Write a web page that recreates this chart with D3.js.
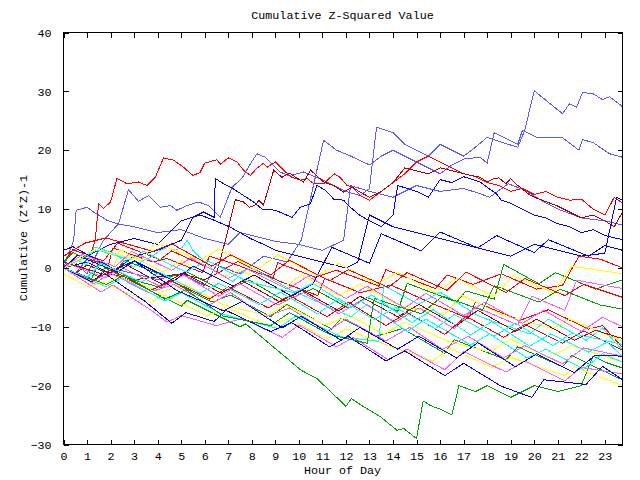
<!DOCTYPE html>
<html><head><meta charset="utf-8">
<script src="https://cdn.jsdelivr.net/npm/d3@7"></script>
<style>
body{margin:0;background:#fff}
text{font-family:"Liberation Mono","DejaVu Sans Mono",monospace;font-size:11.7px;fill:#000}
</style></head>
<body><svg id="c" width="640" height="480"></svg>
<script>
const titleText = "Cumulative Z-Squared Value";
const xLabel = "Hour of Day";
const yLabel = "Cumulative (Z*Z)-1";
const hourTicks = d3.range(0, 24);
const valueTicks = [-30, -20, -10, 0, 10, 20, 30, 40];

const s01 = [[0,0],[0.5,1],[1,-1],[1.7,4.7],[2.34,7.5],[2.76,13.3],[3.19,11.3],[3.61,12.3],[4.11,10.3],[4.54,10.6],[4.82,9.8],[5.25,10.6],[5.74,11.2],[6.17,10.6],[6.66,8.6],[7.16,13.7],[7.58,15.2],[7.94,17.7],[8.22,19.4],[8.58,18.8],[9.2,16.3],[9.57,15.7],[9.92,16],[10.2,16.3],[10.56,15.7],[11,15],[11.5,14],[12,13],[12.6,12.3],[13,13.5],[13.3,23.9],[14,23],[14.5,21],[15,20],[15.5,19],[16,21],[16.5,20],[17,19],[17.5,20.5],[18,22.2],[18.5,21.5],[19.3,20.5],[19.6,23.4],[19.9,28.5],[20,30.1],[21.2,26.2],[21.5,27.9],[21.8,27.3],[22.05,29.8],[22.5,29.6],[22.9,28.6],[23.2,29.1],[23.75,27.4]];
const s02 = [[0,0],[0.5,-1],[1,1.5],[2,0],[3,-1],[4,-2],[5,-1],[6,-3],[6.5,0.5],[7.5,-1],[8.5,2],[9.5,1],[10.1,4.7],[11.05,21.7],[11.6,20],[12.2,19],[13,17.5],[13.5,19],[14,20],[14.5,19],[15,18],[15.5,17],[16,16],[16.5,17.5],[17,18.5],[17.7,18.8],[18,17.8],[18.3,23],[18.8,22],[19.3,21],[19.5,23.4],[20.1,22.2],[21.2,22.1],[21.9,20],[22.05,21.8],[22.5,21.3],[23.2,19.4],[23.75,18.8]];
const s03 = [[0,0],[0.43,4.7],[0.54,9.8],[1,10.3],[1.28,9.5],[1.85,8.1],[2.27,7.5],[3,7],[4,6],[5,6.5],[6,5],[7,4],[7.5,6],[8,5.5],[9,4.5],[10,4],[11,3],[11.9,4.7],[12.2,14],[13,13],[14,12],[15,14],[16,13],[17,13.5],[17.7,12.6],[18.1,12],[18.9,14.3],[19.6,13.2],[20.5,11],[21,10],[22,8.5],[23,8],[23.75,7.3]];
const s04 = [[0,0],[0.5,1.5],[1,0.5],[1.35,4.7],[1.49,10.9],[1.7,10.1],[2,11.2],[2.27,15.2],[2.7,14.3],[3.19,14.6],[3.55,14],[3.9,15.4],[4.25,18.7],[4.68,18.3],[5.1,17.1],[5.5,15.7],[5.8,16.2],[6,17.8],[6.52,18.4],[6.66,17.6],[7,18.7],[7.37,18],[7.65,16.6],[7.94,15.7],[8.2,16.9],[8.5,17.8],[8.65,17.1],[9,18],[9.35,16.6],[9.7,15.4],[10.06,14.9],[10.35,15.2],[10.63,14.3],[11.05,14.3],[11.5,16],[11.75,15.4],[12.05,14],[12.3,13.7],[12.6,12.3],[13,11.5],[13.5,13],[14,14.5],[14.5,16],[15,18],[15.5,19],[16,18],[16.5,17],[17,16],[17.5,15.5],[18,14.5],[18.5,14],[19,13],[19.5,13.5],[20,12.5],[20.5,13],[21,12],[21.5,11.5],[22,11.7],[22.5,10],[23,9],[23.4,12],[23.75,11]];
const s05 = [[0,0],[0.5,-1],[1,0.5],[2,-1],[3,-2],[4,-1.5],[5,-1],[6,-2],[6.5,-1],[6.88,4.7],[7.3,11.6],[7.65,11.2],[7.9,10.3],[8.15,10.7],[8.3,11.5],[8.5,10.7],[8.93,16.6],[9.28,15.4],[9.6,16.1],[9.9,15.3],[10.2,14.6],[10.5,16.6],[10.75,15.7],[11.05,14.6],[11.48,14],[11.9,12.9],[12.26,13.7],[12.6,12.9],[13,12],[13.5,13],[14,14.5],[14.5,17],[15,16.5],[15.5,16],[16,17],[16.5,16.5],[17,16],[17.7,15.4],[18,14.6],[18.3,15.2],[18.5,15.3],[18.8,14.3],[19,15.2],[19.3,14],[19.56,13.2],[19.84,12.3],[20.27,11.6],[21,10.5],[21.5,9.5],[22,8.5],[22.5,9],[23,8],[23.4,7],[23.75,9.5]];
const s06 = [[0,0],[1,1],[2,-1],[3,2],[4,3],[5,4.7],[5.5,8.6],[5.95,9.5],[6.4,8.6],[6.45,15.2],[6.8,14.3],[7.23,13.4],[7.65,12.3],[8.08,11.2],[8.44,10],[9,9.8],[9.35,9.2],[9.71,8.6],[10.06,10.3],[10.49,10.9],[10.77,14],[11.13,13.2],[11.48,11.7],[11.9,11.5],[12.19,10.3],[12.6,8.9],[13,8],[13.5,7],[14,9],[14.2,14],[15,13],[15.5,12],[16,15],[16.5,14.5],[17,15.5],[17.7,14.6],[18,13.7],[18.4,12.6],[18.6,11.5],[19,11],[19.5,10],[20,9],[20.5,8.5],[21,7.5],[21.5,7],[22,6],[22.5,6.5],[23,5.5],[23.75,4.8]];
const s07 = [[0,0],[1,2],[2,4],[3,5],[4,4],[5,8],[5.8,9],[6.4,8.1],[7.1,6.9],[7.94,5],[8.5,4],[9,3],[10,2],[11,1],[12,0],[12.5,1],[13,9],[13.5,8],[14,7],[15,6],[16,5],[17,4],[18,3],[19,2],[20,4],[21,3],[22,2],[23,2.5],[23.5,12],[23.75,11.5]];
const s08 = [[0,0],[0.6,2.2],[1.9,0.4],[2.1,3.4],[3.8,1.0],[4.4,1.6],[5.9,-0.8],[6.2,2.0],[7.3,0.6],[8.9,-1.8],[9.1,0.9],[10.7,-1.6],[11.6,-0.4],[13.4,-3.1],[13.7,-0.3],[15.8,-3.5],[16.3,-1.2],[17.4,-2.8],[18.6,-1.0],[20.1,-3.6],[21.2,-3.0],[21.9,2.0],[22.8,1.5],[23.75,0]];
const s09 = [[0,1],[0.4,3.1],[1.7,1.2],[2.3,4.2],[4.1,1.4],[4.6,2.9],[6.6,-0.8],[7.4,1.1],[9.2,-2.3],[10.8,-4.7],[11.1,-1.8],[12.6,-4.2],[13.9,-2.9],[15.7,-6.1],[17.2,-8.6],[17.5,-5.8],[19.4,-8.9],[20.6,-7.1],[22.3,-10.4],[22.9,-9.8],[23.75,-13.5]];
const s10 = [[0,0],[0.5,0.5],[1.5,-1.5],[1.75,0],[3.5,-3.5],[5,-6.5],[5.25,-5.5],[7.5,-10],[7.75,-9.5],[10.1,-17.4],[10.77,-18.8],[12,-23.5],[12.23,-22.2],[12.76,-23.6],[13.47,-25.3],[14.17,-27.6],[14.46,-27.3],[15,-29],[15.28,-22.6],[15.6,-23.4],[16,-24],[16.5,-25],[16.8,-20],[17.5,-21],[18,-20],[19,-22],[19.5,-21],[20,-20],[21,-21],[22,-20],[22.5,-15],[23,-16],[23.75,-17]];
const s11 = [[0,1],[0.4,2.6],[2.2,-0.6],[2.6,1.3],[4.4,-1.6],[5.3,-0.8],[6.8,-3.9],[7.9,-2.1],[9.4,-5.6],[10.6,-3.5],[12.1,-6.8],[12.9,-5.0],[14.2,-7.4],[14.6,-2.6],[16.7,-5.8],[17.1,-3.9],[18.3,-5.3],[18.7,0.6],[20.2,-2.7],[20.9,-0.8],[22.6,-3.6],[23.75,-2]];
const s12 = [[0,0],[1.2,-1.8],[1.5,1.1],[3.1,-2.2],[4.2,-3.4],[4.5,-2.1],[6.3,-5.8],[7.1,-4.6],[8.8,-8.3],[9.5,-6.2],[11.4,-10.4],[11.8,-8.5],[13.3,-11.6],[14.4,-10.3],[16.2,-14.5],[16.6,-12.2],[18.8,-15.6],[19.3,-13.4],[21.2,-16.8],[21.6,-14.9],[23.3,-18.2],[23.75,-19]];
const s13 = [[0,-1],[1.1,-3.3],[1.6,-2.4],[3.7,-5.9],[4.3,-4.6],[6.1,-8.2],[6.9,-6.7],[8.7,-9.8],[9.6,-8.6],[11.2,-12.1],[12.0,-10.4],[13.8,-13.2],[15.7,-15.8],[16.4,-13.6],[18.2,-16.9],[19.0,-15.2],[21.3,-18.3],[21.7,-16.8],[23.75,-20]];
const s14 = [[0,0],[0.9,1.6],[2.1,-0.2],[2.4,3.1],[4.2,-0.7],[5.0,1.2],[6.6,-1.8],[7.5,-0.3],[9.2,-3.8],[10.1,-1.2],[11.7,-4.7],[12.6,-2.8],[14.3,-6.4],[16.2,-7.9],[16.9,-4.6],[18.7,-8.1],[20.8,-10.3],[21.5,-8.7],[23.75,-12.5]];
const s15 = [[0,0],[1.7,-2.8],[2.4,-1.3],[4.1,-4.2],[5.1,-2.7],[6.8,-6.3],[8.7,-8.1],[9.4,-6.2],[11.1,-9.7],[12.2,-8.1],[13.6,-11.3],[14.5,-9.2],[16.3,-12.4],[18.1,-14.3],[19.0,-12.1],[20.6,-15.2],[21.6,-13.2],[23.75,-16]];
const s16 = [[0,0],[0.5,1.5],[1,0.5],[1.3,3.5],[1.56,3.3],[2.2,2.4],[2.55,1.3],[2.97,0.1],[3.4,1.3],[3.7,1.8],[4.1,3],[4.4,3.5],[4.75,3],[5.05,3.5],[5.25,4.7],[5.5,3],[5.8,1.8],[6.1,0.7],[6.4,-0.5],[7.2,-2.3],[7.9,0.2],[9.7,-3.8],[12.2,-8.3],[12.9,-6.2],[14.6,-10.8],[15.4,-8.7],[17.3,-13.1],[18.1,-11.2],[19.7,-15.3],[20.5,-13.8],[22.1,-17.2],[22.9,-14.6],[23.75,-16]];
const s17 = [[0,0],[1.8,-3.2],[2.5,-1.7],[4.3,-5.6],[5.0,-4.2],[6.7,-7.8],[9.1,-10.3],[9.9,-8.1],[11.8,-11.7],[13.4,-12.5],[13.6,-3],[15.1,-6.2],[16.0,-4.1],[17.7,-8.3],[19.8,-11.2],[20.6,-8.7],[22.2,-12.3],[22.9,-10.2],[23.75,-14]];
const s18 = [[0,0],[1.6,-4.1],[2.1,-2.9],[3.8,-7.4],[4.4,-9.2],[5.0,-8.1],[6.5,-9.8],[7.6,-8.6],[9.3,-11.8],[10.0,-9.7],[11.6,-13.4],[12.3,-11.8],[13.8,-15.6],[14.6,-13.8],[16.2,-17.3],[17.0,-14.2],[18.8,-17.7],[19.6,-15.8],[21.3,-19.2],[22.0,-16.9],[23.75,-18]];
const s19 = [[0,1],[1.8,-1.7],[2.4,0.2],[4.2,-3.3],[5.1,-1.2],[6.6,-4.8],[7.5,-2.7],[9.1,-6.3],[10.2,-4.2],[11.7,-7.8],[12.6,-5.6],[14.1,-9.2],[15.1,-6.8],[16.6,-10.3],[17.5,-6.6],[19.3,-9.7],[19.9,-4.8],[21.3,-7.2],[21.8,-2.1],[23.75,-3.5]];
const s20 = [[0,0],[1.3,-2.7],[2.0,-0.9],[3.6,-4.2],[4.7,-2.8],[6.2,-6.3],[7.1,-4.2],[8.6,-8.3],[9.6,-6.8],[11.2,-10.8],[12.0,-8.7],[13.7,-12.4],[14.7,-10.1],[16.1,-13.8],[17.2,-11.6],[18.7,-15.3],[19.6,-13.2],[21.2,-16.3],[22.1,-13.6],[23.75,-15]];
const s21 = [[0,0],[1.2,-2.4],[1.7,-0.8],[3.5,-5.8],[4.6,-9.4],[5.2,-7.6],[6.4,-9.1],[6.9,-7.2],[8.8,-10.8],[9.7,-9.3],[11.3,-13.4],[12.1,-11.6],[13.7,-15.8],[14.5,-14.1],[16.2,-18.3],[17.0,-16.2],[18.6,-20.1],[19.9,-22],[20.4,-19],[22.2,-19.8],[22.9,-16.7],[23.75,-19]];
const s22 = [[0,0],[0.6,2.1],[2.3,-0.7],[3.0,1.2],[4.7,-2.2],[5.5,0.3],[7.2,-3.1],[8.1,-1.2],[9.7,-4.8],[10.6,-2.7],[11.4,3.5],[13.0,0.8],[13.5,5.8],[15.2,2.9],[16.0,6.1],[17.6,3.4],[18.4,5.5],[20.0,2.6],[20.6,4.8],[22.3,2.0],[23.0,3.8],[23.75,3]];
const s23 = [[0,0],[1.3,-2.2],[2.0,-0.3],[3.7,-3.8],[4.6,-2.2],[6.2,-5.3],[7.0,-3.2],[8.7,-6.8],[9.6,-4.7],[11.2,-8.3],[12.1,-5.8],[13.7,-9.8],[14.6,-7.6],[16.2,-11.3],[17.1,-8.2],[18.7,-11.8],[19.6,-9.6],[21.2,-12.8],[22.1,-10.7],[23.75,-14]];
const s24 = [[0,1],[1.8,-1.2],[2.6,0.7],[4.2,-2.8],[5.1,-0.8],[6.7,-4.3],[7.6,-2.2],[9.2,-5.8],[10.1,-3.7],[11.7,-7.3],[12.6,-4.8],[14.2,-8.3],[15.1,-6.2],[16.7,-9.8],[17.6,-7.2],[19.2,-10.8],[20.1,-8.7],[21.7,-12.3],[22.6,-10.6],[23.75,-12]];
const s25 = [[0,0],[1.8,-2.8],[2.6,-1.2],[4.3,-5.3],[5.2,-3.7],[6.8,-8.2],[8.8,-9.8],[9.6,-7.6],[11.3,-11.3],[12.9,-12.8],[13.2,-5.2],[15.2,-7.8],[16.1,-4.8],[17.8,-7.2],[18.3,-3.0],[20.2,-5.8],[21.1,-3.6],[22.8,-6.3],[23.75,-7]];
const s26 = [[0,0],[0.6,1.2],[1.4,3.1],[2.8,1.4],[3.4,2.8],[5.2,-0.7],[6.1,1.3],[7.8,-2.3],[9.8,-4.2],[10.6,-2.6],[12.2,-6.8],[13.1,-4.6],[14.8,-9.3],[15.7,-7.1],[17.3,-11.4],[18.2,-9.1],[19.8,-13.3],[20.7,-11.2],[22.3,-14.3],[23.1,-12.6],[23.75,-15]];
const s27 = [[0,0],[0.6,1.6],[1.4,3.2],[3.3,1.2],[3.9,4.3],[5.8,1.3],[6.6,3.2],[8.2,-0.3],[9.1,2.2],[10.8,-1.3],[11.7,0.8],[13.3,-2.8],[14.2,-0.7],[15.8,-4.2],[16.7,-1.8],[18.3,-4.8],[19.1,-1.3],[20.8,-4.2],[21.6,0.3],[23.75,-1]];
const s28 = [[0,3],[0.4,3.6],[2.2,-0.3],[3.0,1.2],[4.8,-3.8],[6.8,-7.3],[7.6,-5.7],[9.3,-10.2],[10.1,-8.2],[11.8,-12.3],[12.6,-10.1],[14.2,-13.8],[15.1,-11.6],[16.7,-15.3],[17.6,-12.7],[19.2,-16.8],[20.1,-14.6],[21.7,-17.8],[22.6,-14.8],[23.75,-15]];
const s29 = [[0,2],[0.9,4.2],[1.8,5.1],[3.8,2.8],[4.6,4.1],[6.3,0.3],[7.1,2.2],[8.8,-1.2],[9.6,1.3],[11.3,-2.2],[12.1,-0.3],[13.8,-3.3],[14.6,-0.8],[16.3,-3.8],[17.1,-0.7],[18.8,-4.2],[19.6,-1.8],[21.3,-4.7],[22.1,-2.8],[23.75,-5]];
const s30 = [[0,0],[0.8,2.3],[2.2,0.2],[2.9,2.8],[4.6,-0.4],[5.4,1.7],[7.0,-1.8],[7.8,-0.2],[9.5,-3.6],[10.4,-1.4],[12.0,-5.2],[12.9,-3.1],[14.5,-6.8],[15.4,-4.3],[17.0,-8.1],[17.9,-5.8],[19.5,-9.4],[20.4,-7.2],[22.0,-10.8],[22.9,-8.4],[23.75,-10]];
const s31 = [[0,0],[1.0,-1.6],[1.6,0.8],[3.3,-2.4],[4.1,-0.8],[5.8,-4.3],[6.6,-2.6],[8.3,-6.2],[9.2,-4.1],[10.8,-7.8],[11.7,-5.2],[13.2,-8.8],[14.1,-6.7],[15.8,-10.3],[16.6,-7.9],[18.3,-11.6],[19.2,-9.4],[20.8,-13.2],[21.6,-11.1],[23.75,-13]];

const seriesList = [s01,s02,s03,s04,s05,s06,s07,s08,s09,s10,s11,s12,s13,s14,s15,s16,s17,s18,s19,s20,s21,s22,s23,s24,s25,s26,s27,s28,s29,s30,s31];
const seriesColors = ["#5a5aff","#5a5aff","#5a5aff","#ff0000","#b00000","#0000ff","#0000ff","#ff0000","#ff0000","#00a000","#00a000","#00a000","#ffff00","#ffff00","#ffff00","#00ffff","#00ffff","#ff5aff","#ff5aff","#ff5aff","#0000ff","#0000ff","#ff0000","#b00000","#00a000","#00ffff","#ffff00","#0000ff","#ff0000","#ff5aff","#00ffff"];

const svg = d3.select("#c");
const x = d3.scaleLinear().domain([0, 23.75]).range([63.5, 622.5]);
const y = d3.scaleLinear().domain([-30, 40]).range([444.5, 32.5]);

svg.append("clipPath").attr("id","clip").append("rect")
  .attr("x",63.5).attr("y",32.5).attr("width",559).attr("height",412);

const line = d3.line().x(d => x(d[0])).y(d => y(d[1]));
const gl = svg.append("g").attr("clip-path","url(#clip)");
seriesList.forEach((s,i) => {
  gl.append("path").attr("d", line(s)).attr("fill","none")
    .attr("stroke", seriesColors[i]).attr("stroke-width",1)
    .attr("shape-rendering","crispEdges");
});

function style(g){
  g.select(".domain").remove();
  g.selectAll("line").attr("stroke","#000").attr("shape-rendering","crispEdges");
  g.selectAll("text").attr("font-family","Liberation Mono, DejaVu Sans Mono, monospace").attr("font-size",11.7).attr("fill","#000");
}
svg.append("g").attr("transform","translate(0,444.5)")
  .call(d3.axisBottom(x).tickValues(hourTicks).tickSize(-5).tickPadding(7).tickFormat(d3.format("d"))).call(style);
svg.append("g").attr("transform","translate(0,32.5)")
  .call(d3.axisTop(x).tickValues(hourTicks).tickSize(-5).tickFormat("")).call(style);
svg.append("g").attr("transform","translate(63.5,0)")
  .call(d3.axisLeft(y).tickValues(valueTicks).tickSize(-5).tickPadding(12).tickFormat(d3.format("d"))).call(style);
svg.append("g").attr("transform","translate(622.5,0)")
  .call(d3.axisRight(y).tickValues(valueTicks).tickSize(-5).tickFormat("")).call(style);

svg.append("rect").attr("x",63.5).attr("y",32.5).attr("width",559).attr("height",412)
  .attr("fill","none").attr("stroke","#000").attr("shape-rendering","crispEdges");

svg.append("text").attr("x",342.5).attr("y",19).attr("text-anchor","middle").text(titleText);
svg.append("text").attr("x",342.5).attr("y",474).attr("text-anchor","middle").text(xLabel);
svg.append("text").attr("transform","translate(27,238) rotate(-90)").attr("text-anchor","middle").text(yLabel);
</script></body></html>
